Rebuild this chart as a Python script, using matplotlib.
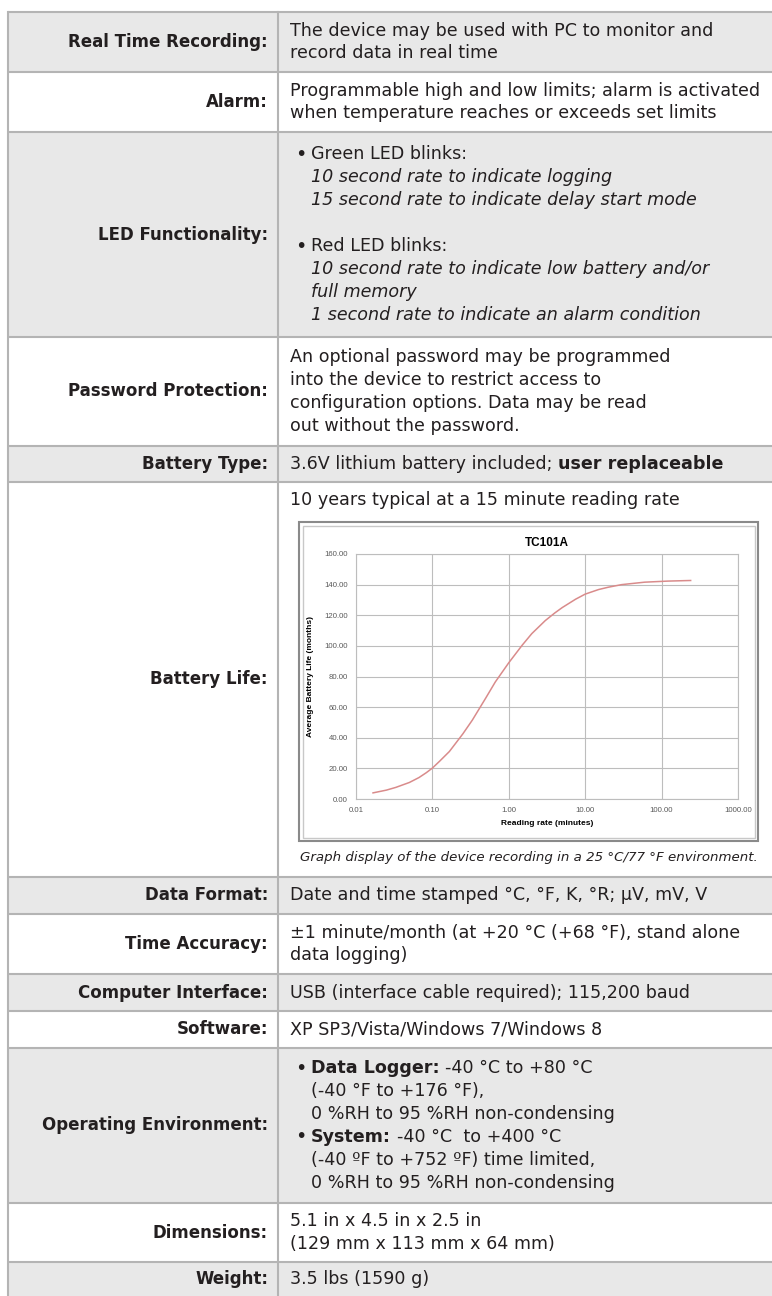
import matplotlib
matplotlib.use("Agg")
import matplotlib.pyplot as plt
from matplotlib.patches import Rectangle
from matplotlib.ticker import FixedLocator, FixedFormatter, NullLocator

# ---- chart data ----
reading_rate_min = [0.0167, 0.025, 0.0333, 0.05, 0.0667, 0.0833, 0.1, 0.125, 0.1667,
                    0.25, 0.333, 0.5, 0.667, 1.0, 1.5, 2.0, 3.0, 4.0, 5.0, 7.5, 10.0,
                    15.0, 20.0, 30.0, 60.0, 120.0, 240.0]
battery_life_months = [4.0, 5.8, 7.6, 10.8, 14.0, 17.2, 20.2, 24.8, 31.0,
                       42.5, 51.5, 66.0, 76.5, 89.0, 100.5, 108.0, 116.5, 121.5, 125.0,
                       130.5, 133.8, 136.8, 138.3, 140.0, 141.6, 142.3, 142.7]
x_ticks = [0.01, 0.1, 1, 10, 100, 1000]
x_tick_labels = ["0.01", "0.10", "1.00", "10.00", "100.00", "1000.00"]
y_ticks = [0, 20, 40, 60, 80, 100, 120, 140, 160]

# ---- table text ----
R, B, I = "regular", "bold", "italic"
row_labels = ["Real Time Recording:", "Alarm:", "LED Functionality:", "Password Protection:",
              "Battery Type:", "Battery Life:", "Data Format:", "Time Accuracy:",
              "Computer Interface:", "Software:", "Operating Environment:", "Dimensions:",
              "Weight:"]
row_content = [
    [(0, [("The device may be used with PC to monitor and", R)]),
     (0, [("record data in real time", R)])],
    [(0, [("Programmable high and low limits; alarm is activated", R)]),
     (0, [("when temperature reaches or exceeds set limits", R)])],
    [("•", [("Green LED blinks:", R)]),
     (1, [("10 second rate to indicate logging", I)]),
     (1, [("15 second rate to indicate delay start mode", I)]),
     None,
     ("•", [("Red LED blinks:", R)]),
     (1, [("10 second rate to indicate low battery and/or", I)]),
     (1, [("full memory", I)]),
     (1, [("1 second rate to indicate an alarm condition", I)])],
    [(0, [("An optional password may be programmed", R)]),
     (0, [("into the device to restrict access to", R)]),
     (0, [("configuration options. Data may be read", R)]),
     (0, [("out without the password.", R)])],
    [(0, [("3.6V lithium battery included;", R), ("user replaceable", B)])],
    [(0, [("10 years typical at a 15 minute reading rate", R)])],
    [(0, [("Date and time stamped °C, °F, K, °R; µV, mV, V", R)])],
    [(0, [("±1 minute/month (at +20 °C (+68 °F), stand alone", R)]),
     (0, [("data logging)", R)])],
    [(0, [("USB (interface cable required); 115,200 baud", R)])],
    [(0, [("XP SP3/Vista/Windows 7/Windows 8", R)])],
    [("•", [("Data Logger:", B), ("-40 °C to +80 °C", R)]),
     (1, [("(-40 °F to +176 °F),", R)]),
     (1, [("0 %RH to 95 %RH non-condensing", R)]),
     ("•", [("System:", B), ("-40 °C  to +400 °C", R)]),
     (1, [("(-40 ºF to +752 ºF) time limited,", R)]),
     (1, [("0 %RH to 95 %RH non-condensing", R)])],
    [(0, [("5.1 in x 4.5 in x 2.5 in", R)]),
     (0, [("(129 mm x 113 mm x 64 mm)", R)])],
    [(0, [("3.5 lbs (1590 g)", R)])],
]
caption = "Graph display of the device recording in a 25 °C/77 °F environment."

# ---- layout (pixels) ----
W, H = 772, 1296
row_edges = [12, 72, 132, 337, 446, 482, 877, 914, 974, 1011, 1048, 1203, 1262, 1297]
LEFT, DIVIDER, RIGHT = 8, 278, 772
LABEL_X, TEXT_X, BULLET_X, INDENT_X = 268, 290, 295, 311
LINE_H = 23
FS = 12.6
FONT = "DejaVu Sans"
TXT = "#231f20"
SHADE = "#e8e8e8"
RULE = "#b4b4b4"

fig = plt.figure(figsize=(W / 100, H / 100), dpi=100)
ax = fig.add_axes([0, 0, 1, 1])
ax.set_xlim(0, W)
ax.set_ylim(H, 0)
ax.axis("off")
renderer = fig.canvas.get_renderer()


def text_width(s, **kw):
    t = ax.text(0, 0, s, fontsize=FS, family=FONT, **kw)
    w = t.get_window_extent(renderer).width
    t.remove()
    return w


space_w = text_width("x x") - text_width("xx")


def draw_segments(x, y, segments):
    for k, (s, style) in enumerate(segments):
        if k > 0:
            x += space_w
        t = ax.text(x, y, s, fontsize=FS, family=FONT, color=TXT, va="center", ha="left",
                    fontweight="bold" if style == B else "normal",
                    fontstyle="italic" if style == I else "normal")
        x = t.get_window_extent(renderer).x1


for i, label in enumerate(row_labels):
    top, bot = row_edges[i], row_edges[i + 1]
    if i % 2 == 0:
        ax.add_patch(Rectangle((LEFT, top), RIGHT - LEFT, bot - top, color=SHADE, lw=0))
    ax.text(LABEL_X, (top + bot) / 2, label, fontsize=12, family=FONT, fontweight="bold",
            color=TXT, ha="right", va="center")
    lines = row_content[i]
    if i == 5:
        y0 = top + 18
    else:
        y0 = (top + bot) / 2 - (len(lines) - 1) * LINE_H / 2
    for j, line in enumerate(lines):
        if line is None:
            continue
        y = y0 + j * LINE_H
        kind, segs = line
        if kind == "•":
            ax.text(BULLET_X, y, "•", fontsize=14, family=FONT, color=TXT, va="center", ha="left")
            draw_segments(INDENT_X, y, segs)
        else:
            draw_segments(TEXT_X if kind == 0 else INDENT_X, y, segs)

# grid rules
for e in row_edges[:-1]:
    ax.plot([LEFT, RIGHT], [e, e], color=RULE, lw=1.5, solid_capstyle="butt")
ax.plot([LEFT, LEFT], [row_edges[0], H], color=RULE, lw=1.5)
ax.plot([DIVIDER, DIVIDER], [row_edges[0], H], color=RULE, lw=1.5)

# chart frame and caption
ax.add_patch(Rectangle((299, 522), 459, 319, facecolor="white", edgecolor="#8a8a8a", lw=1.5))
ax.add_patch(Rectangle((302.5, 525.5), 452, 312, facecolor="none", edgecolor="#c8c8c8", lw=1.0))
ax.text(529, 857, caption, fontsize=9.6, family=FONT, fontstyle="italic", color=TXT,
        ha="center", va="center")

# embedded chart
cx0, cy0, cx1, cy1 = 356, 554, 738, 799
ax2 = fig.add_axes([cx0 / W, 1 - cy1 / H, (cx1 - cx0) / W, (cy1 - cy0) / H])
ax2.plot(reading_rate_min, battery_life_months, color="#d98b8b", lw=1.1)
ax2.set_xscale("log")
ax2.set_xlim(0.01, 1000)
ax2.set_ylim(0, 160)
ax2.xaxis.set_major_locator(FixedLocator(x_ticks))
ax2.xaxis.set_major_formatter(FixedFormatter(x_tick_labels))
ax2.xaxis.set_minor_locator(NullLocator())
ax2.set_yticks(y_ticks)
ax2.set_yticklabels([f"{v:.2f}" for v in y_ticks])
ax2.grid(True, color="#bdbdbd", lw=0.8)
ax2.set_axisbelow(True)
ax2.tick_params(length=0, labelsize=5.6, labelcolor="#595959", pad=6)
for lab in ax2.get_xticklabels() + ax2.get_yticklabels():
    lab.set_family("Liberation Sans")
for sp in ax2.spines.values():
    sp.set_color("#bdbdbd")
    sp.set_linewidth(0.8)
ax2.set_title("TC101A", fontsize=8.5, fontweight="bold", family="Liberation Sans", pad=6)
ax2.set_xlabel("Reading rate (minutes)", fontsize=6, fontweight="bold",
               family="Liberation Sans", labelpad=4)
ax2.set_ylabel("Average Battery Life (months)", fontsize=6, fontweight="bold",
               family="Liberation Sans", labelpad=7)

fig.savefig("out.png", dpi=100)
